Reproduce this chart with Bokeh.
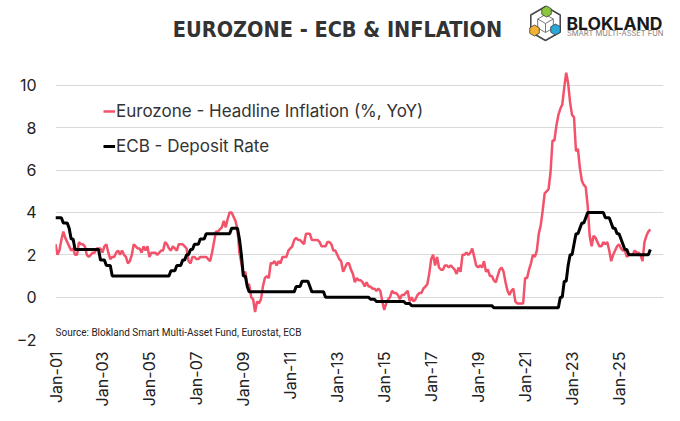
import numpy as np
from bokeh.plotting import figure
from bokeh.models import Range1d, FixedTicker, Legend, LegendItem, Label
from bokeh.embed import file_html
from bokeh.resources import INLINE

START_YEAR = 2001

# Eurozone headline inflation (% YoY), monthly from Jan-2001
inflation = (
    [2.5, 2.0, 2.2, 2.7, 3.1, 2.8, 2.6, 2.4, 2.2, 2.3, 2.0, 2.0] +      # 2001
    [2.6, 2.5, 2.5, 2.4, 2.0, 1.9, 2.0, 2.1, 2.1, 2.3, 2.3, 2.3] +      # 2002
    [2.1, 2.4, 2.5, 2.1, 1.8, 1.9, 1.9, 2.1, 2.2, 2.0, 2.2, 2.0] +      # 2003
    [1.9, 1.6, 1.7, 2.0, 2.5, 2.4, 2.3, 2.3, 2.1, 2.4, 2.2, 2.4] +      # 2004
    [1.9, 2.1, 2.1, 2.1, 2.0, 2.1, 2.2, 2.2, 2.6, 2.5, 2.3, 2.2] +      # 2005
    [2.4, 2.3, 2.2, 2.5, 2.5, 2.5, 2.4, 2.3, 1.7, 1.6, 1.9, 1.9] +      # 2006
    [1.8, 1.8, 1.9, 1.9, 1.9, 1.9, 1.8, 1.7, 2.1, 2.6, 3.1, 3.1] +      # 2007
    [3.2, 3.3, 3.6, 3.3, 3.7, 4.0, 4.0, 3.8, 3.6, 3.2, 2.1, 1.6] +      # 2008
    [1.1, 1.2, 0.6, 0.6, 0.0, -0.1, -0.7, -0.2, -0.3, -0.1, 0.5, 0.9] + # 2009
    [1.0, 0.9, 1.6, 1.6, 1.7, 1.5, 1.7, 1.6, 1.9, 1.9, 1.9, 2.2] +      # 2010
    [2.3, 2.4, 2.7, 2.8, 2.7, 2.7, 2.6, 2.5, 3.0, 3.0, 3.0, 2.7] +      # 2011
    [2.7, 2.7, 2.7, 2.6, 2.4, 2.4, 2.4, 2.6, 2.6, 2.5, 2.2, 2.2] +      # 2012
    [2.0, 1.8, 1.7, 1.2, 1.4, 1.6, 1.6, 1.3, 1.1, 0.7, 0.9, 0.8] +      # 2013
    [0.8, 0.7, 0.5, 0.7, 0.5, 0.5, 0.4, 0.4, 0.3, 0.4, 0.3, -0.2] +     # 2014
    [-0.6, -0.3, -0.1, 0.0, 0.3, 0.2, 0.2, 0.1, -0.1, 0.1, 0.1, 0.2] +  # 2015
    [0.3, -0.2, 0.0, -0.2, -0.1, 0.1, 0.2, 0.2, 0.4, 0.5, 0.6, 1.1] +   # 2016
    [1.8, 2.0, 1.5, 1.9, 1.4, 1.3, 1.3, 1.5, 1.5, 1.4, 1.5, 1.4] +      # 2017
    [1.3, 1.1, 1.4, 1.2, 2.0, 2.0, 2.1, 2.0, 2.1, 2.3, 1.9, 1.5] +      # 2018
    [1.4, 1.5, 1.4, 1.7, 1.2, 1.3, 1.0, 1.0, 0.8, 0.7, 1.0, 1.3] +      # 2019
    [1.4, 1.2, 0.7, 0.3, 0.1, 0.3, 0.4, -0.2, -0.3, -0.3, -0.3, -0.3] + # 2020
    [0.9, 0.9, 1.3, 1.6, 2.0, 1.9, 2.2, 3.0, 3.4, 4.1, 4.9, 5.0] +      # 2021
    [5.1, 5.9, 7.4, 7.4, 8.1, 8.6, 8.9, 9.1, 9.9, 10.6, 10.1, 9.2] +    # 2022
    [8.6, 8.5, 6.9, 7.0, 6.1, 5.5, 5.3, 5.2, 4.3, 2.9, 2.4, 2.9] +      # 2023
    [2.8, 2.6, 2.4, 2.4, 2.6, 2.5, 2.6, 2.2, 1.7, 2.0, 2.2, 2.4] +      # 2024
    [2.5, 2.3, 2.2, 2.2, 1.9, 2.0, 2.0, 2.0, 2.2, 2.1, 2.1, 2.0] +      # 2025
    [1.7, 2.6, 2.9, 3.1, 3.2]                                           # 2026
)

# ECB deposit facility rate (%), monthly from Jan-2001
deposit_rate = (
    [3.75, 3.75, 3.75, 3.75, 3.5, 3.5, 3.5, 3.25, 2.75, 2.75, 2.25, 2.25] +   # 2001
    [2.25] * 11 + [1.75] +                                                   # 2002
    [1.75, 1.75, 1.5, 1.5, 1.5, 1.0, 1.0, 1.0, 1.0, 1.0, 1.0, 1.0] +         # 2003
    [1.0] * 12 +                                                             # 2004
    [1.0] * 11 + [1.25] +                                                    # 2005
    [1.25, 1.25, 1.5, 1.5, 1.5, 1.75, 1.75, 2.0, 2.0, 2.25, 2.25, 2.5] +     # 2006
    [2.5, 2.5, 2.75, 2.75, 2.75, 3.0, 3.0, 3.0, 3.0, 3.0, 3.0, 3.0] +        # 2007
    [3.0] * 6 + [3.25, 3.25, 3.25, 3.25, 2.75, 2.0] +                        # 2008
    [1.0, 1.0, 0.5, 0.25] + [0.25] * 8 +                                     # 2009
    [0.25] * 12 +                                                            # 2010
    [0.25, 0.25, 0.25, 0.5, 0.5, 0.5, 0.75, 0.75, 0.75, 0.75, 0.5, 0.25] +   # 2011
    [0.25] * 6 + [0.0] * 6 +                                                 # 2012
    [0.0] * 12 +                                                             # 2013
    [0.0, 0.0, 0.0, 0.0, 0.0, -0.1, -0.1, -0.1, -0.2, -0.2, -0.2, -0.2] +    # 2014
    [-0.2] * 11 + [-0.3] +                                                   # 2015
    [-0.3, -0.3] + [-0.4] * 10 +                                             # 2016
    [-0.4] * 12 +                                                            # 2017
    [-0.4] * 12 +                                                            # 2018
    [-0.4] * 8 + [-0.5] * 4 +                                                # 2019
    [-0.5] * 12 +                                                            # 2020
    [-0.5] * 12 +                                                            # 2021
    [-0.5] * 6 + [0.0, 0.0, 0.75, 0.75, 1.5, 2.0] +                          # 2022
    [2.0, 2.5, 3.0, 3.0, 3.25, 3.5, 3.5, 3.75, 4.0, 4.0, 4.0, 4.0] +         # 2023
    [4.0] * 5 + [3.75, 3.75, 3.75, 3.5, 3.25, 3.25, 3.0] +                   # 2024
    [3.0, 2.75, 2.5, 2.25, 2.25, 2.0, 2.0, 2.0, 2.0, 2.0, 2.0, 2.0] +        # 2025
    [2.0, 2.0, 2.0, 2.0, 2.25]                                               # 2026
)

tick_years = [2001, 2003, 2005, 2007, 2009, 2011, 2013, 2015, 2017, 2019, 2021, 2023, 2025]
tick_labels = ["Jan-01", "Jan-03", "Jan-05", "Jan-07", "Jan-09", "Jan-11", "Jan-13",
               "Jan-15", "Jan-17", "Jan-19", "Jan-21", "Jan-23", "Jan-25"]
y_ticks = [-2, 0, 2, 4, 6, 8, 10]

title_text = "EUROZONE - ECB & INFLATION"
source_text = "Source: Blokland Smart Multi-Asset Fund, Eurostat, ECB"
series_names = ["Eurozone - Headline Inflation (%, YoY)", "ECB - Deposit Rate"]
brand_text = "BLOKLAND"
brand_sub = "SMART MULTI-ASSET FUND"

RED = "#F2526A"
FONT = "Inter"

# ---- geometry (pixels) ----
W, H = 680, 421
FL, FR, FB = 55, 663, 339          # frame left / right / bottom in canvas px
PX_PER_YEAR = 23.48
PX_PER_UNIT = 21.17
X0, Y0 = 2001.0, -2.0
x_end = X0 + (FR - FL) / PX_PER_YEAR
y_end = Y0 + FB / PX_PER_UNIT


def px_x(px):
    return X0 + (px - FL) / PX_PER_YEAR


def px_y(py):
    return Y0 + (FB - py) / PX_PER_UNIT


x_infl = START_YEAR + np.arange(len(inflation)) / 12.0
x_rate = START_YEAR + np.arange(len(deposit_rate)) / 12.0

p = figure(width=W, height=H, x_range=Range1d(X0, x_end), y_range=Range1d(Y0, y_end),
           output_backend="svg", toolbar_location=None,
           min_border_left=FL, min_border_right=W - FR, min_border_top=0,
           min_border_bottom=H - FB)
p.outline_line_color = None
p.background_fill_color = "white"
p.border_fill_color = "white"

p.xgrid.visible = False
p.ygrid.grid_line_color = "#D9D9D9"
p.ygrid.grid_line_width = 1

r1 = p.line(x_infl, inflation, line_color=RED, line_width=2.5)
r2 = p.line(x_rate, deposit_rate, line_color="black", line_width=3)

p.yaxis.ticker = FixedTicker(ticks=y_ticks)
p.xaxis.ticker = FixedTicker(ticks=tick_years)
p.xaxis.major_label_overrides = {yr: lab for yr, lab in zip(tick_years, tick_labels)}
p.xaxis.major_label_orientation = np.pi / 2

for ax in (p.xaxis, p.yaxis):
    ax.axis_line_color = None
    ax.major_tick_line_color = None
    ax.minor_tick_line_color = None
    ax.major_label_text_font = FONT
    ax.major_label_text_font_size = "16px"
    ax.major_label_text_color = "#222222"
p.yaxis.major_label_standoff = 13
p.xaxis.major_label_standoff = 6

legend = Legend(items=[LegendItem(label=series_names[0], renderers=[r1]),
                       LegendItem(label=series_names[1], renderers=[r2])],
                location=(48, 183), glyph_width=12, glyph_height=20, label_height=20,
                spacing=15, padding=0, margin=0, border_line_color=None,
                background_fill_alpha=0, label_text_font=FONT, label_text_font_size="17px",
                label_text_color="#333333", label_standoff=1)
p.add_layout(legend)

p.add_layout(Label(x=px_x(55), y=px_y(332), text=source_text, text_font="Roboto",
                   text_font_size="10px", text_color="#222222", text_baseline="alphabetic"))

# ---- header: title ----
p.add_layout(Label(x=px_x(337), y=px_y(28.5), text=title_text, text_align="center",
                   text_baseline="alphabetic",
                   text_font="'DejaVu Sans Condensed', 'Liberation Sans Narrow', Roboto, sans-serif",
                   text_font_style="bold", text_font_size="21.5px", text_color="#333333"))

# ---- header: logo ----
ang = np.deg2rad(np.array([90, 150, 210, 270, 330, 30]))


def hexagon(cx, cy, r):
    return [px_x(v) for v in cx + r * np.cos(ang)], [px_y(v) for v in cy - r * np.sin(ang)]


ICX, ICY = 545, 23
hx, hy = hexagon(ICX, ICY, 17)
p.patch(hx, hy, fill_color=None, line_color="#4a4a4a", line_width=1.6)
ix, iy = hexagon(ICX, ICY, 9)
p.patch(ix, iy, fill_color=None, line_color="#777777", line_width=1)
cxs = ICX + 9 * np.cos(ang)
cys = ICY - 9 * np.sin(ang)
p.multi_line(xs=[[px_x(ICX), px_x(cxs[k])] for k in (1, 3, 5)],
             ys=[[px_y(ICY), px_y(cys[k])] for k in (1, 3, 5)],
             line_color="#777777", line_width=1)
for (sx, sy, col) in [(546, 11, "#8CC63F"), (534, 30, "#F6B333"), (555, 29, "#29A8D8")]:
    bx, by = hexagon(sx, sy, 5.5)
    p.patch(bx, by, fill_color=col, line_color="#3a3a3a", line_width=0.8)

p.add_layout(Label(x=px_x(566), y=px_y(22.5), text=brand_text, text_font=FONT,
                   text_font_style="bold", text_font_size="17.5px", text_color="#1a1a1a",
                   text_baseline="alphabetic"))
p.add_layout(Label(x=px_x(566.5), y=px_y(33), text=brand_sub, text_font=FONT,
                   text_font_size="7.5px", text_color="#808080", text_baseline="alphabetic"))

open("out.html", "w").write(file_html(p, INLINE))
